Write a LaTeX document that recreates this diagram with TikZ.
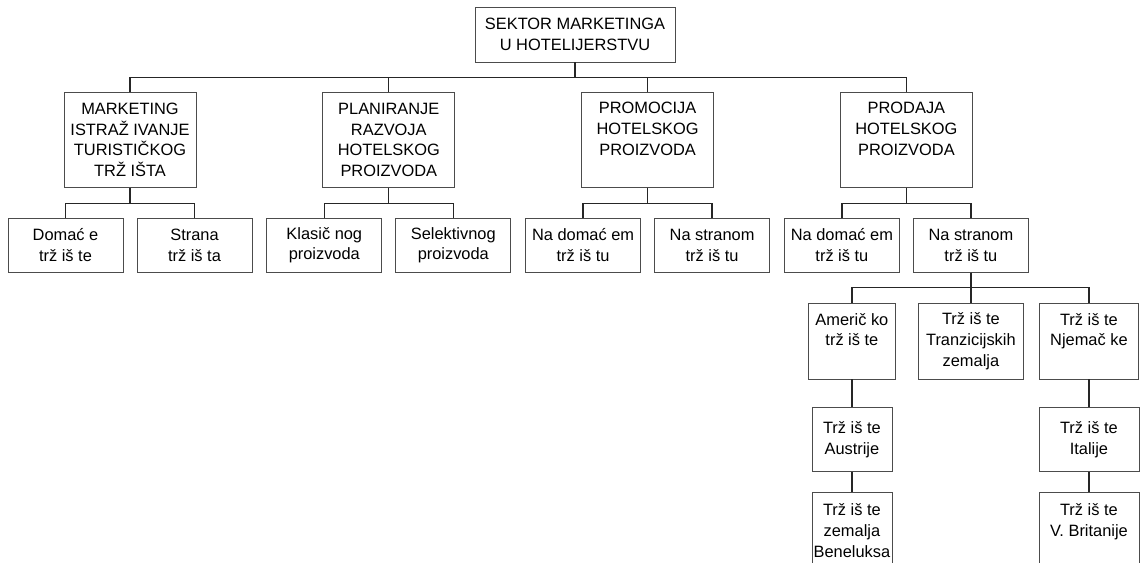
\documentclass[tikz,border=0pt]{standalone}
\usepackage{fontspec}
\setmainfont{Liberation Sans}
\usepackage{tikz}
\usetikzlibrary{positioning}
\tikzstyle{topbox} = [rectangle, minimum width=200pt, minimum height=55pt, inner sep=1pt, align=center, draw=black!70, line width=0.8pt]
\tikzstyle{sector} = [rectangle, minimum width=132pt, minimum height=95pt, inner sep=1pt, align=center, draw=black!70, line width=0.8pt]
\tikzstyle{branch} = [rectangle, minimum width=115pt, minimum height=54pt, inner sep=1pt, align=center, draw=black!70, line width=0.8pt]
\tikzstyle{market} = [rectangle, minimum height=76pt, inner sep=1pt, align=center, draw=black!70, line width=0.8pt]
\tikzstyle{country} = [rectangle, minimum height=64pt, inner sep=1pt, align=center, draw=black!70, line width=0.8pt]
\tikzstyle{link} = [line width=1.3pt, black!85]
% text hung from the top of a taller box
\newcommand{\toptxt}[2]{\vbox to #1{\hbox{\begin{tabular}[t]{@{}c@{}}#2\end{tabular}}\vfil}}

\begin{document}
\begin{tikzpicture}[x=1pt, y=1pt, font=\fontsize{16.4}{20.8}\selectfont]
      \useasboundingbox (0,0) rectangle (1140,-562);

      % Nodes
      \node (sektor) [topbox] at (575,-34.5) {SEKTOR MARKETINGA\\U HOTELIJERSTVU};

      \node (mark) [sector, anchor=north] at (130,-92) {MARKETING\\ISTRAŽ IVANJE\\TURISTIČKOG\\TRŽ IŠTA};
      \node (plan) [sector, right=126pt of mark] {PLANIRANJE\\RAZVOJA\\HOTELSKOG\\PROIZVODA};
      \node (promo) [sector, right=126pt of plan] {\toptxt{82pt}{PROMOCIJA\\HOTELSKOG\\PROIZVODA}};
      \node (prod) [sector, right=126pt of promo] {\toptxt{82pt}{PRODAJA\\HOTELSKOG\\PROIZVODA}};

      \node (markdom) [branch, below=30pt of mark, xshift=-64.5pt] {Domać e\\trž iš te};
      \node (markstr) [branch, below=30pt of mark, xshift=64.5pt] {Strana\\trž iš ta};
      \node (plankl) [branch, below=30pt of plan, xshift=-64.5pt] {Klasič nog\\proizvoda};
      \node (plansel) [branch, below=30pt of plan, xshift=64.5pt] {Selektivnog\\proizvoda};
      \node (promodom) [branch, below=30pt of promo, xshift=-64.5pt] {Na domać em\\trž iš tu};
      \node (promostr) [branch, below=30pt of promo, xshift=64.5pt] {Na stranom\\trž iš tu};
      \node (proddom) [branch, below=30pt of prod, xshift=-64.5pt] {Na domać em\\trž iš tu};
      \node (prodstr) [branch, below=30pt of prod, xshift=64.5pt] {Na stranom\\trž iš tu};

      \node (amer) [market, minimum width=87pt, below=30pt of prodstr, xshift=-119pt] {\toptxt{61pt}{Američ ko\\trž iš te}};
      \node (tranz) [market, minimum width=105pt, below=30pt of prodstr] {Trž iš te\\Tranzicijskih\\zemalja};
      \node (njem) [market, minimum width=99pt, below=30pt of prodstr, xshift=118pt] {\toptxt{61pt}{Trž iš te\\Njemač ke}};

      \node (austr) [country, minimum width=80pt, below=28pt of amer] {Trž iš te\\Austrije};
      \node (ital) [country, minimum width=100pt, below=28pt of njem] {Trž iš te\\Italije};
      \node (benel) [country, minimum width=80pt, minimum height=80pt, inner xsep=0pt, below=20pt of austr] {\toptxt{63pt}{Trž iš te\\zemalja\\Beneluksa}};
      \node (brit) [country, minimum width=100pt, minimum height=80pt, below=20pt of ital] {\toptxt{63pt}{Trž iš te\\V. Britanije}};

      % Lines
      \draw [link] (sektor.south) -- ++(0,-15) -| (mark.north);
      \draw [link] (sektor.south) -- ++(0,-15) -| (plan.north);
      \draw [link] (sektor.south) -- ++(0,-15) -| (promo.north);
      \draw [link] (sektor.south) -- ++(0,-15) -| (prod.north);

      \draw [link] (mark.south) -- ++(0,-16) -| (markdom.north);
      \draw [link] (mark.south) -- ++(0,-16) -| (markstr.north);
      \draw [link] (plan.south) -- ++(0,-16) -| (plankl.north);
      \draw [link] (plan.south) -- ++(0,-16) -| (plansel.north);
      \draw [link] (promo.south) -- ++(0,-16) -| (promodom.north);
      \draw [link] (promo.south) -- ++(0,-16) -| (promostr.north);
      \draw [link] (prod.south) -- ++(0,-16) -| (proddom.north);
      \draw [link] (prod.south) -- ++(0,-16) -| (prodstr.north);

      \draw [link] (prodstr.south) -- ++(0,-15) -| (amer.north);
      \draw [link] (prodstr.south) -- (tranz.north);
      \draw [link] (prodstr.south) -- ++(0,-15) -| (njem.north);

      \draw [link] (amer) -- (austr);
      \draw [link] (austr) -- (benel);
      \draw [link] (njem) -- (ital);
      \draw [link] (ital) -- (brit);

\end{tikzpicture}
\end{document}
